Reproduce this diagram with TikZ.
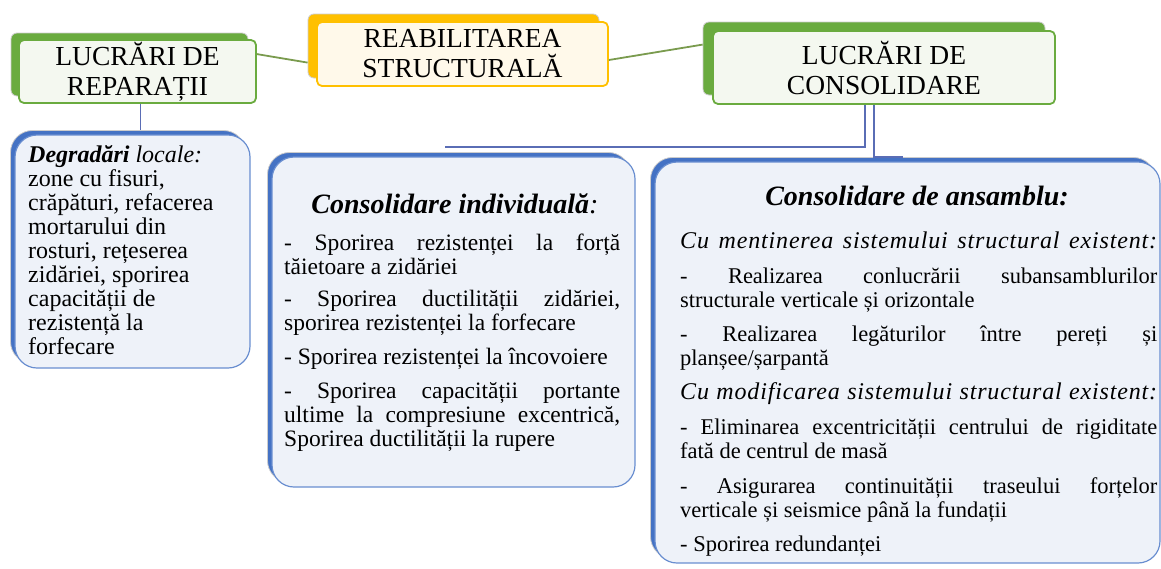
\documentclass[tikz,border=0pt]{standalone}
\usepackage{fontspec}
\setmainfont{Liberation Serif}
\newfontfamily\hdfont[LetterSpace=3.5]{Liberation Serif}
\usetikzlibrary{calc}
\definecolor{cgreen}{HTML}{6AAB3F}
\definecolor{gfill}{HTML}{F4F8F0}
\definecolor{corange}{HTML}{FFC000}
\definecolor{ofill}{HTML}{FFF9EA}
\definecolor{cblue}{HTML}{4472C4}
\definecolor{bfill}{HTML}{EEF2F9}
\definecolor{glinec}{HTML}{7A9B4E}
\definecolor{blinec}{HTML}{5A6DB5}
\newcommand\jind[1]{\makebox[336pt][s]{#1}}
\newcommand\jans[1]{\makebox[477pt][s]{#1}}
\tikzset{
  gback/.style={fill=cgreen, draw=gray!40, line width=0.8pt, rounded corners=6pt, inner sep=0pt},
  gfront/.style={fill=gfill, draw=cgreen, line width=1.8pt, rounded corners=5pt, inner sep=0pt, align=center, font=\fontsize{27.5}{30}\selectfont},
  oback/.style={fill=corange, draw=gray!40, line width=0.8pt, rounded corners=6pt, inner sep=0pt},
  ofront/.style={fill=ofill, draw=corange, line width=1.8pt, rounded corners=5pt, inner sep=0pt, align=center, font=\fontsize{27.5}{30}\selectfont},
  bback/.style={fill=cblue, draw=gray!40, line width=0.8pt, rounded corners=22pt, inner sep=0pt},
  bfront/.style={fill=bfill, draw=cblue!80, line width=1.2pt, rounded corners=22pt, inner sep=0pt},
  gline/.style={draw=glinec, line width=1.8pt},
  bline/.style={draw=blinec, line width=1.8pt},
  il/.style={inner sep=0pt, anchor=base west, font=\fontsize{23.5}{24}\selectfont},
  bl/.style={inner sep=0pt, anchor=base west, font=\fontsize{22.5}{24}\selectfont},
  hl/.style={inner sep=0pt, anchor=base west, font=\fontsize{24}{24}\hdfont\itshape},
  dl/.style={inner sep=0pt, anchor=base west, font=\fontsize{24}{24}\selectfont},
  ttext/.style={inner sep=0pt, anchor=base, font=\fontsize{28}{30}\selectfont\bfseries\itshape},
}
\begin{document}
\begin{tikzpicture}[x=1pt,y=-1pt]
\useasboundingbox (0,0) rectangle (1161,568);
% top boxes
\node[gback, minimum width=237pt, minimum height=63pt] (repB) at (129.5,64.5) {};
\node[gfront, minimum width=237pt, minimum height=63pt] (rep) at (137.5,71.5) {LUCRĂRI DE\\REPARAȚII};
\node[oback, minimum width=291pt, minimum height=64pt] (reabB) at (453.5,46) {};
\node[ofront, minimum width=291pt, minimum height=64pt] (reab) at (462.5,54) {REABILITAREA\\STRUCTURALĂ};
\node[gback, minimum width=342pt, minimum height=73pt] (consB) at (874,58.5) {};
\node[gfront, minimum width=342pt, minimum height=73pt] (cons) at (884,67.5) {LUCRĂRI DE\\CONSOLIDARE};
% lower boxes
\node[bback, minimum width=235pt, minimum height=233pt] (degB) at (128,247) {};
\node[bfront, minimum width=235pt, minimum height=233pt] (deg) at (132.5,251.5) {};
\node[bback, minimum width=363pt, minimum height=330pt] (indB) at (449,317.5) {};
\node[bfront, minimum width=363pt, minimum height=330pt] (ind) at (453.5,322) {};
\node[bback, minimum width=505pt, minimum height=401pt] (ansB) at (903,358) {};
\node[bfront, minimum width=505pt, minimum height=401pt] (ans) at (907.5,362.5) {};
% connectors
\draw[gline] ($(rep.north east)+(0,15)$) -- ($(reabB.north west)+(0,49)$);
\draw[gline] ($(reab.east)+(0,6)$) -- ($(consB.north west)+(0,23)$);
\coordinate (r1) at ($(rep.south)+(3,0)$);
\draw[bline] (r1) -- (r1 |- degB.north);
\coordinate (c1) at ($(cons.south)+(-19,0)$);
\coordinate (indtop) at ($(indB.north)+(-4,-5)$);
\draw[bline] (c1) |- (indtop);
\coordinate (c2) at ($(cons.south)+(-10,0)$);
\draw[bline] (c2) |- (ansB.north);
% Degradari text
\node[dl] (d1) at (28,162) {\textbf{\textit{Degradări}} \textit{locale:}};
\node[dl] (d2) at (28,186) {zone cu fisuri,};
\node[dl] (d3) at (28,210) {crăpături, refacerea};
\node[dl] (d4) at (28,234) {mortarului din};
\node[dl] (d5) at (28,258) {rosturi, rețeserea};
\node[dl] (d6) at (28,282) {zidăriei, sporirea};
\node[dl] (d7) at (28,306) {capacității de};
\node[dl] (d8) at (28,330) {rezistență la};
\node[dl] (d9) at (28,354) {forfecare};
% Individuala
\node[ttext] (it) at (455,213) {Consolidare individuală\textmd{:}};
\node[il] (i1) at (284,250) {\jind{- Sporirea rezistenței la forță}};
\node[il] (i2) at (284,274) {tăietoare a zidăriei};
\node[il] (i3) at (284,306) {\jind{- Sporirea ductilității zidăriei,}};
\node[il] (i4) at (284,330) {sporirea rezistenței la forfecare};
\node[il] (i5) at (284,364) {- Sporirea rezistenței la încovoiere};
\node[il] (i6) at (284,398) {\jind{- Sporirea capacității portante}};
\node[il] (i7) at (284,422) {\jind{ultime la compresiune excentrică,}};
\node[il] (i8) at (284,446) {Sporirea ductilității la rupere};
% Ansamblu
\node[ttext] (at) at (917,205) {Consolidare de ansamblu:};
\node[hl] (a1) at (680,248) {\jans{Cu mentinerea sistemului structural existent:}};
\node[bl] (a2) at (680,283) {\jans{- Realizarea conlucrării subansamblurilor}};
\node[bl] (a3) at (680,307) {structurale verticale și orizontale};
\node[bl] (a4) at (680,341) {\jans{- Realizarea legăturilor între pereți și}};
\node[bl] (a5) at (680,365) {planșee/șarpantă};
\node[hl] (a6) at (680,399) {\jans{Cu modificarea sistemului structural existent:}};
\node[bl] (a7) at (680,434) {\jans{- Eliminarea excentricității centrului de rigiditate}};
\node[bl] (a8) at (680,458) {fată de centrul de masă};
\node[bl] (a9) at (680,493) {\jans{- Asigurarea continuității traseului forțelor}};
\node[bl] (a10) at (680,517) {verticale și seismice până la fundații};
\node[bl] (a11) at (680,551) {- Sporirea redundanței};
\end{tikzpicture}
\end{document}
